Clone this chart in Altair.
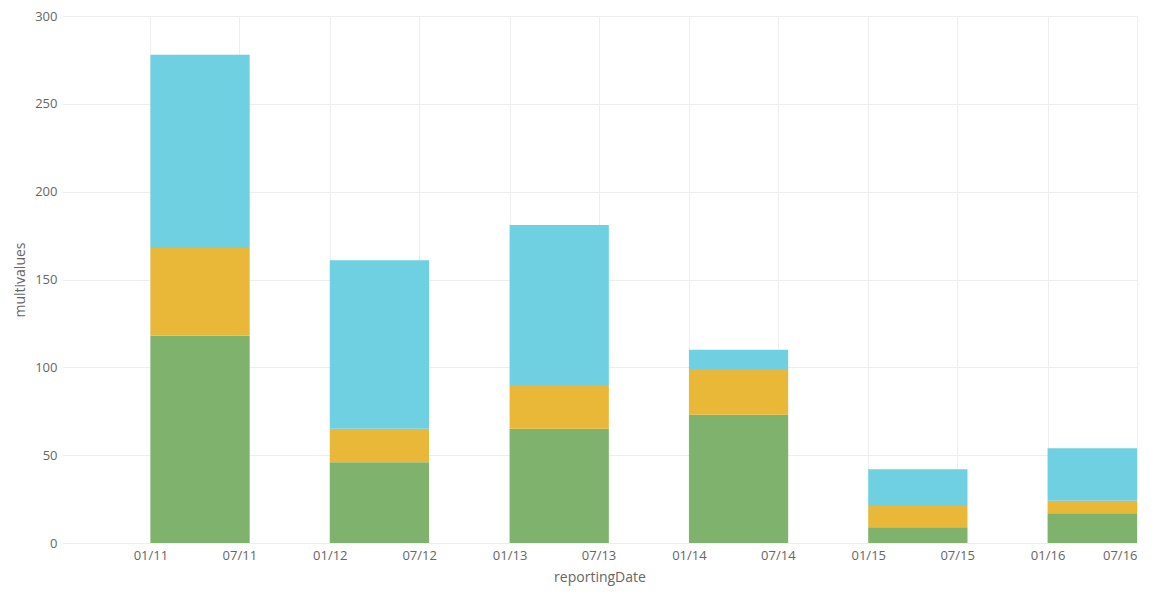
import altair as alt
import pandas as pd

years = ["2011-01-01", "2012-01-01", "2013-01-01", "2014-01-01", "2015-01-01", "2016-01-01"]
series_names = ["series1", "series2", "series3"]
green_vals = [118, 46, 65, 73, 9, 17]
orange_vals = [50, 19, 25, 26, 12, 7]
blue_vals = [110, 96, 91, 11, 21, 30]
colors = ["#7EB26D", "#EAB839", "#6ED0E0"]

rows = []
for i, d in enumerate(years):
    for k, (name, vals) in enumerate(zip(series_names, [green_vals, orange_vals, blue_vals])):
        rows.append({"reportingDate": d, "series": name, "order": k, "multivalues": vals[i]})
df = pd.DataFrame(rows)

FONT = "Open Sans"

chart = alt.Chart(df).transform_window(
    cum="sum(multivalues)",
    groupby=["reportingDate"],
    sort=[alt.SortField("order", order="ascending")],
    frame=[None, 0],
).transform_calculate(
    base="datum.cum - datum.multivalues",
    start="toDate(datum.reportingDate)",
).transform_calculate(
    end="datum.start + 202 * 86400000",
).mark_bar(clip=True).encode(
    x=alt.X("start:T", title="reportingDate",
            scale=alt.Scale(domain=["2010-07-05", "2016-07-01"], nice=False),
            axis=alt.Axis(format="%m/%y", tickCount={"interval": "month", "step": 6},
                          ticks=False, domain=False, labelPadding=6, titlePadding=8,
                          gridColor="#eeeeee", labelOverlap=False)),
    x2="end:T",
    y=alt.Y("cum:Q", title="multivalues",
            scale=alt.Scale(domain=[0, 300], nice=False),
            axis=alt.Axis(values=[0, 50, 100, 150, 200, 250, 300], ticks=False, domain=False,
                          labelPadding=5, titlePadding=7, gridColor="#eeeeee")),
    y2="base:Q",
    color=alt.Color("series:N", scale=alt.Scale(domain=series_names, range=colors), legend=None),
).properties(
    width=1075,
    height=527,
    autosize=alt.AutoSizeParams(type="none"),
    padding={"left": 54, "top": 8, "right": 16, "bottom": 47},
).configure_view(
    stroke=None
).configure_axis(
    labelFont=FONT, titleFont=FONT, labelFontSize=13, titleFontSize=14,
    labelColor="#666666", titleColor="#666666", titleFontWeight="normal",
)

chart.save("out.html", embed_options={"renderer": "svg", "actions": False})
